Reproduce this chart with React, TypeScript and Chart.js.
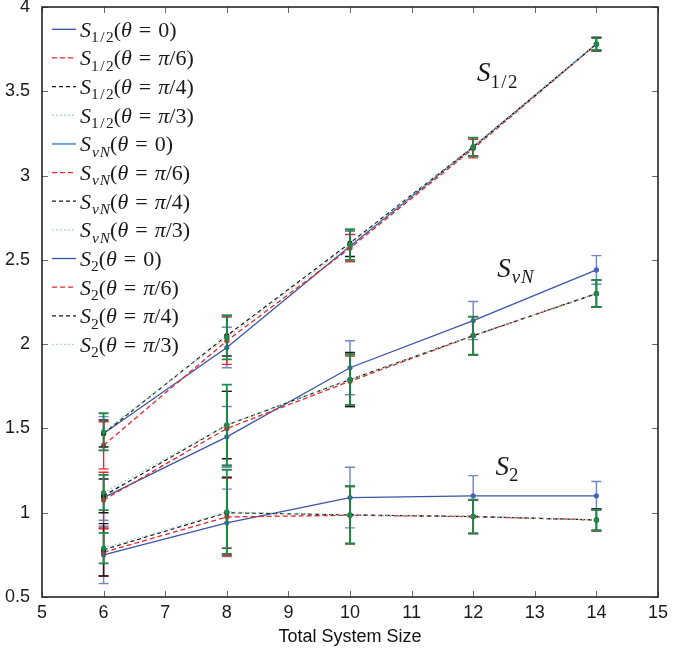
import React, { useEffect, useRef } from 'react';
import { Chart, registerables } from 'chart.js';

Chart.register(...registerables);

// ---- data ----
const sizes = [6, 8, 10, 12, 14];
const yTickLabels = ['0.5', '1', '1.5', '2', '2.5', '3', '3.5', '4'];
const angleLabels = ['0', 'π/6', 'π/4', 'π/3'];

const sHalfTheta0 = [1.47, 1.98, 2.58, 3.17, 3.78];
const sHalfTheta6 = [1.40, 2.02, 2.57, 3.16, 3.78];
const sHalfTheta4 = [1.47, 2.05, 2.60, 3.17, 3.78];
const sHalfTheta3 = [1.48, 2.04, 2.59, 3.17, 3.78];
const sHalfTheta0Err = [0.10, 0.12, 0.09, 0.055, 0.04];
const sHalfTheta6Err = [0.14, 0.14, 0.08, 0.055, 0.04];
const sHalfTheta4Err = [0.08, 0.12, 0.08, 0.055, 0.04];
const sHalfTheta3Err = [0.11, 0.13, 0.09, 0.055, 0.035];

const sVNTheta0 = [1.09, 1.45, 1.86, 2.14, 2.44];
const sVNTheta6 = [1.075, 1.50, 1.78, 2.05, 2.30];
const sVNTheta4 = [1.10, 1.52, 1.79, 2.05, 2.30];
const sVNTheta3 = [1.12, 1.52, 1.79, 2.05, 2.30];
const sVNTheta0Err = [0.135, 0.18, 0.16, 0.113, 0.085];
const sVNTheta6Err = [0.165, 0.22, 0.15, 0.113, 0.08];
const sVNTheta4Err = [0.10, 0.20, 0.16, 0.113, 0.08];
const sVNTheta3Err = [0.105, 0.24, 0.15, 0.113, 0.08];

const s2Theta0 = [0.75, 0.94, 1.09, 1.10, 1.10];
const s2Theta6 = [0.765, 0.975, 0.985, 0.977, 0.957];
const s2Theta4 = [0.78, 1.00, 0.987, 0.977, 0.957];
const s2Theta3 = [0.79, 1.005, 0.987, 0.977, 0.957];
const s2Theta0Err = [0.17, 0.20, 0.18, 0.12, 0.085];
const s2Theta6Err = [0.14, 0.23, 0.17, 0.10, 0.065];
const s2Theta4Err = [0.155, 0.21, 0.17, 0.10, 0.065];
const s2Theta3Err = [0.09, 0.25, 0.17, 0.10, 0.06];

const groups = ['1/2', 'vN', '2'];
const seriesValues = [
  [sHalfTheta0, sHalfTheta6, sHalfTheta4, sHalfTheta3],
  [sVNTheta0, sVNTheta6, sVNTheta4, sVNTheta3],
  [s2Theta0, s2Theta6, s2Theta4, s2Theta3],
];
const seriesErrors = [
  [sHalfTheta0Err, sHalfTheta6Err, sHalfTheta4Err, sHalfTheta3Err],
  [sVNTheta0Err, sVNTheta6Err, sVNTheta4Err, sVNTheta3Err],
  [s2Theta0Err, s2Theta6Err, s2Theta4Err, s2Theta3Err],
];

// ---- styles ----
const angleStyles = [
  { line: '#3a55ab', bar: '#6f86c9', point: '#4663b8', dash: [] as number[], width: 1.3 },
  { line: '#e8262c', bar: '#e8262c', point: '#e8262c', dash: [5, 3], width: 1.3 },
  { line: '#1a1a1a', bar: '#1a1a1a', point: '#1a1a1a', dash: [4, 3], width: 1.2 },
  { line: '#8fd3ae', bar: '#1f8a4a', point: '#1f8a4a', dash: [1.5, 2.5], width: 1.3 },
];
const legendColorOverride: Record<string, string> = { 'vN-0': '#6fa3da' };

const annotations = [
  { group: '1/2', x: 12.06, y: 3.56 },
  { group: 'vN', x: 12.39, y: 2.40 },
  { group: '2', x: 12.36, y: 1.224 },
];

const SERIF = '"Liberation Serif", "Times New Roman", serif';
const SANS = '"Liberation Sans", Arial, sans-serif';

function drawMath(ctx: CanvasRenderingContext2D, x: number, baseline: number, group: string, angle: string | null, size: number) {
  const sub = size * 0.7;
  let cx = x;
  const put = (t: string, italic: boolean, fs: number, dy = 0) => {
    ctx.font = `${italic ? 'italic ' : ''}${fs}px ${SERIF}`;
    ctx.fillText(t, cx, baseline + dy);
    cx += ctx.measureText(t).width;
  };
  ctx.fillStyle = '#1a1a1a';
  ctx.textBaseline = 'alphabetic';
  ctx.textAlign = 'left';
  put('S', true, size);
  const dy = size * 0.24;
  if (group === 'vN') {
    cx += 1;
    put('v', true, sub, dy);
    cx += 1;
    put('N', true, sub, dy);
  } else if (group === '1/2') {
    put('1', false, sub, dy);
    cx += 1.5;
    put('/', false, sub, dy);
    cx += 1.5;
    put('2', false, sub, dy);
  } else {
    put(group, false, sub, dy);
  }
  if (angle !== null) {
    put('(', false, size);
    put('θ', true, size);
    cx += size * 0.32;
    put('=', false, size);
    cx += size * 0.32;
    if (angle === '0') {
      put('0', false, size);
    } else {
      put('π', true, size);
      put('/', false, size);
      put(angle.split('/')[1], false, size);
    }
    put(')', false, size);
  }
}

export default function App() {
  const ref = useRef<HTMLCanvasElement | null>(null);

  useEffect(() => {
    if (!ref.current) return;
    const series: { group: string; angleIdx: number; values: number[]; errors: number[] }[] = [];
    groups.forEach((g, gi) => {
      angleLabels.forEach((_, ai) => {
        series.push({ group: g, angleIdx: ai, values: seriesValues[gi][ai], errors: seriesErrors[gi][ai] });
      });
    });
    const n = series.length;

    const datasets = series.map((s, i) => {
      const st = angleStyles[s.angleIdx];
      return {
        label: `S_${s.group}(θ = ${angleLabels[s.angleIdx]})`,
        data: sizes.map((x, j) => ({ x, y: s.values[j] })),
        borderColor: st.line,
        borderWidth: st.width,
        borderDash: st.dash,
        backgroundColor: st.point,
        pointBackgroundColor: st.point,
        pointBorderColor: st.point,
        pointBorderWidth: 0,
        pointRadius: 2.6,
        tension: 0,
        fill: false,
        order: n - 1 - i,
      };
    });

    const errorBars = {
      id: 'errorBars',
      beforeDatasetDraw(chart: any, args: any) {
        const i = args.index;
        const s = series[i];
        const st = angleStyles[s.angleIdx];
        const xs = chart.scales.x;
        const ys = chart.scales.y;
        const ctx = chart.ctx as CanvasRenderingContext2D;
        ctx.save();
        ctx.strokeStyle = st.bar;
        ctx.lineWidth = s.angleIdx === 3 ? 1.8 : 1.4;
        ctx.setLineDash([]);
        sizes.forEach((xv, j) => {
          const px = xs.getPixelForValue(xv);
          const top = ys.getPixelForValue(s.values[j] + s.errors[j]);
          const bot = ys.getPixelForValue(s.values[j] - s.errors[j]);
          ctx.beginPath();
          ctx.moveTo(px, top);
          ctx.lineTo(px, bot);
          ctx.moveTo(px - 5, top);
          ctx.lineTo(px + 5, top);
          ctx.moveTo(px - 5, bot);
          ctx.lineTo(px + 5, bot);
          ctx.stroke();
        });
        ctx.restore();
      },
    };

    const frame = {
      id: 'frame',
      afterDraw(chart: any) {
        const ctx = chart.ctx as CanvasRenderingContext2D;
        const a = chart.chartArea;
        const xs = chart.scales.x;
        const ys = chart.scales.y;
        ctx.save();
        ctx.setLineDash([]);
        ctx.strokeStyle = '#6a6a6a';
        ctx.lineWidth = 1;
        const tl = 6;
        xs.ticks.forEach((t: any) => {
          const px = Math.round(xs.getPixelForValue(t.value)) + 0.5;
          ctx.beginPath();
          ctx.moveTo(px, a.bottom);
          ctx.lineTo(px, a.bottom - tl);
          ctx.moveTo(px, a.top);
          ctx.lineTo(px, a.top + tl);
          ctx.stroke();
        });
        ys.ticks.forEach((t: any) => {
          const py = Math.round(ys.getPixelForValue(t.value)) + 0.5;
          ctx.beginPath();
          ctx.moveTo(a.left, py);
          ctx.lineTo(a.left + tl, py);
          ctx.moveTo(a.right, py);
          ctx.lineTo(a.right - tl, py);
          ctx.stroke();
        });
        ctx.strokeStyle = '#262626';
        ctx.lineWidth = 1.6;
        ctx.strokeRect(a.left, a.top, a.right - a.left, a.bottom - a.top);

        // legend
        const legendTop = 29.3;
        const legendStep = 28.65;
        series.forEach((s, i) => {
          const st = angleStyles[s.angleIdx];
          const y = legendTop + i * legendStep;
          const key = `${s.group}-${angleLabels[s.angleIdx]}`;
          ctx.save();
          ctx.strokeStyle = legendColorOverride[key] ?? st.line;
          ctx.lineWidth = legendColorOverride[key] ? 2 : st.width;
          ctx.setLineDash(st.dash);
          ctx.beginPath();
          ctx.moveTo(52, y);
          ctx.lineTo(76, y);
          ctx.stroke();
          ctx.restore();
          drawMath(ctx, 80, y + 7.5, s.group, angleLabels[s.angleIdx], 22);
        });

        // curve annotations
        annotations.forEach((an) => {
          drawMath(ctx, xs.getPixelForValue(an.x), ys.getPixelForValue(an.y), an.group, null, 27);
        });
        ctx.restore();
      },
    };

    const chart = new Chart(ref.current, {
      type: 'line',
      data: { datasets: datasets as any },
      options: {
        animation: false,
        responsive: false,
        devicePixelRatio: 1,
        layout: { padding: { top: 7, right: 35, bottom: 0, left: 0 } },
        plugins: { legend: { display: false }, tooltip: { enabled: false }, title: { display: false } },
        scales: {
          x: {
            type: 'linear',
            min: 5,
            max: 15,
            grid: { display: false },
            border: { display: false },
            ticks: { stepSize: 1, autoSkip: false, maxRotation: 0, padding: -3, color: '#1a1a1a', font: { family: SANS, size: 18 } },
            title: { display: true, text: 'Total System Size', color: '#111', font: { family: SANS, size: 18 }, padding: { top: 0, bottom: 10 } },
            afterFit: (s: any) => { s.height = 61; s.paddingLeft = 0; s.paddingRight = 0; },
          },
          y: {
            type: 'linear',
            min: 0.5,
            max: 4,
            grid: { display: false },
            border: { display: false },
            ticks: {
              stepSize: 0.5,
              padding: 4,
              color: '#1a1a1a',
              font: { family: SANS, size: 18 },
              callback: (v: any, idx: number) => yTickLabels[idx] ?? String(v),
            },
            afterFit: (s: any) => { s.width = 42; s.paddingTop = 0; s.paddingBottom = 0; },
          },
        },
      },
      plugins: [errorBars, frame],
    });
    return () => chart.destroy();
  }, []);

  return (
    <div style={{ position: 'fixed', left: 0, top: 0, width: 693, height: 658, background: '#fff' }}>
      <canvas ref={ref} width={693} height={658} style={{ display: 'block' }} />
    </div>
  );
}
